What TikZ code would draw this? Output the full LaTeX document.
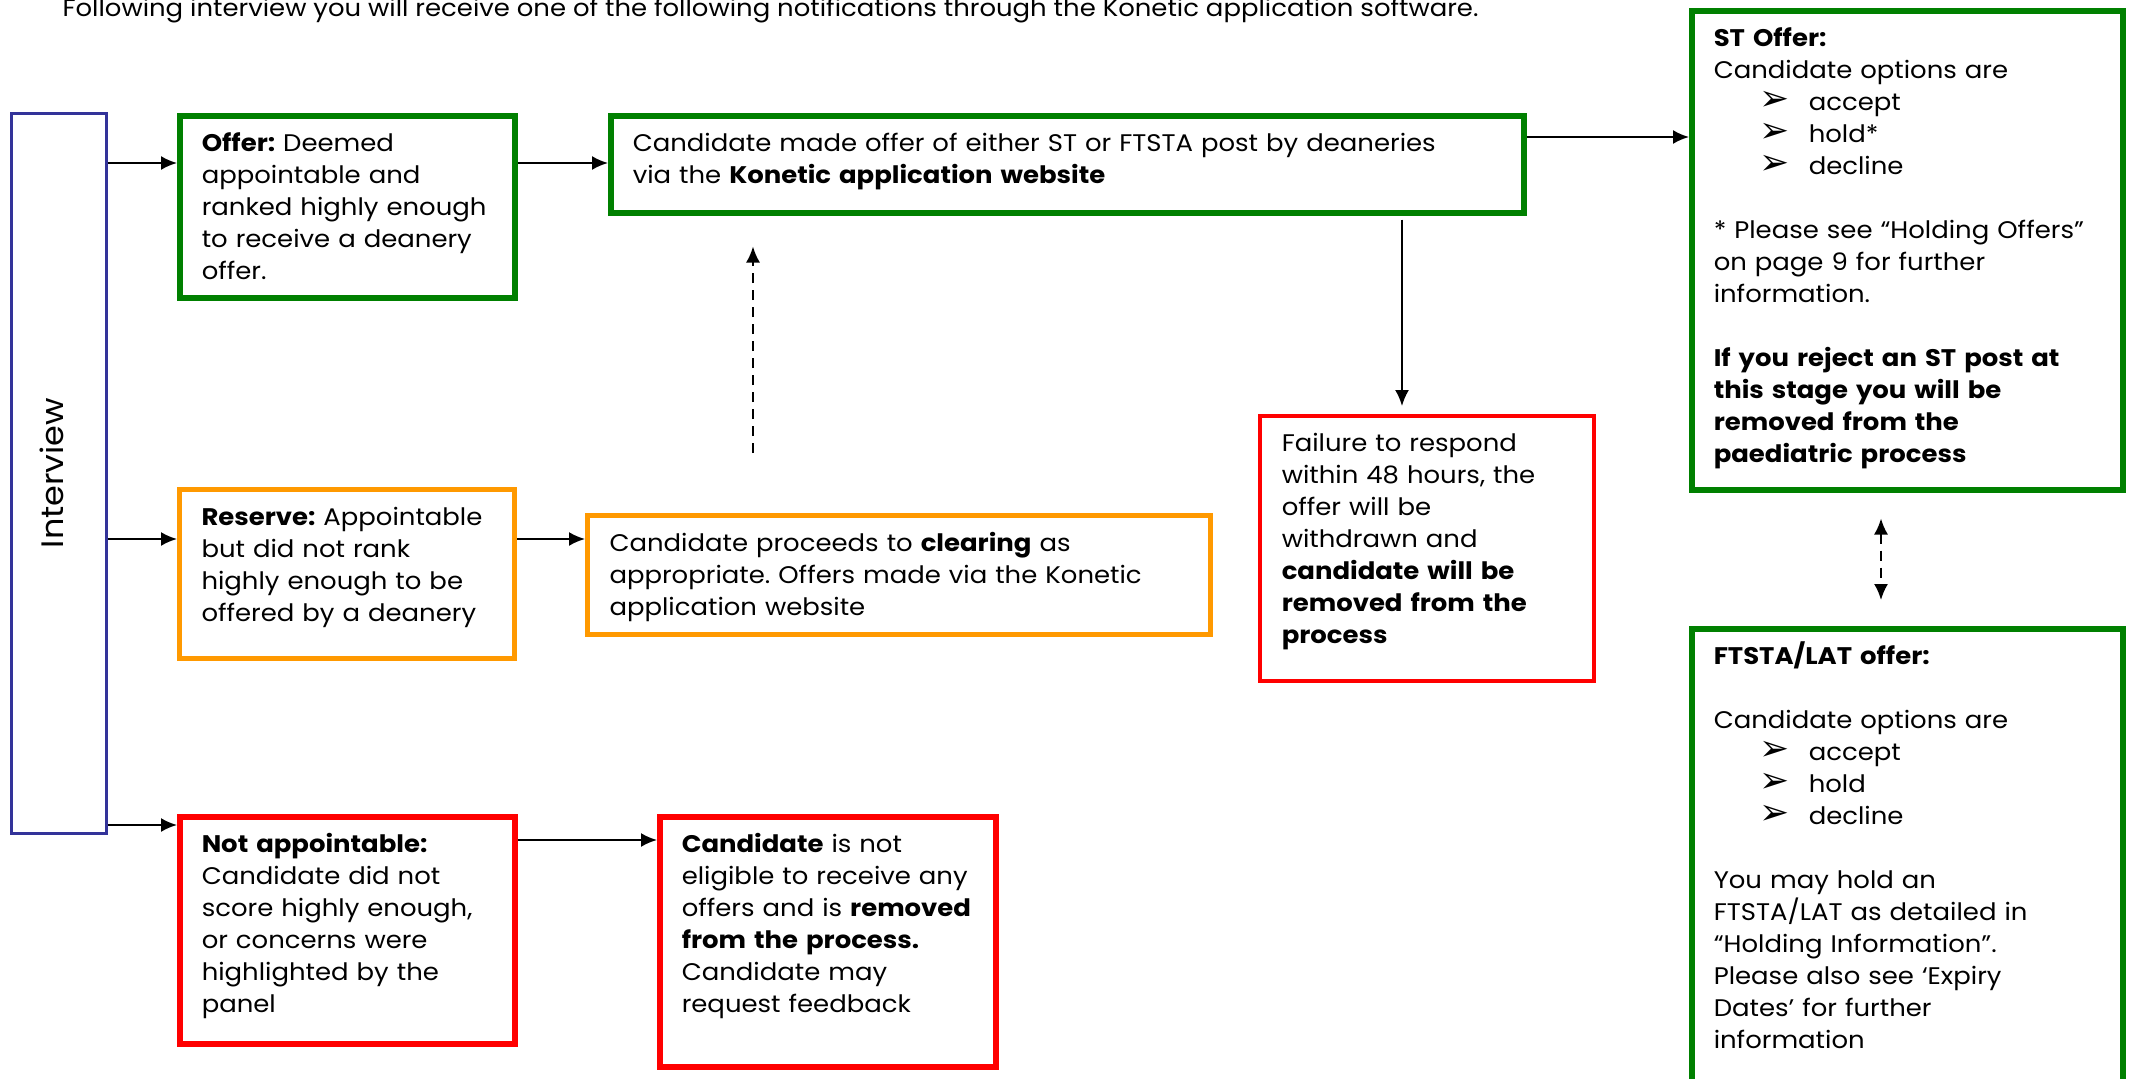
\documentclass[tikz,border=0pt]{standalone}
\usepackage{fontspec}
\setmainfont{Poppins}[FakeStretch=1.08]
\newfontfamily\arrowfont{DejaVu Sans}
\usetikzlibrary{arrows.meta}
\frenchspacing

\definecolor{offergreen}{RGB}{0,128,0}
\definecolor{stopred}{RGB}{255,0,0}
\definecolor{reserveorange}{RGB}{255,153,0}
\definecolor{interviewblue}{RGB}{51,51,153}

\newcommand{\opt}[1]{\hspace*{46pt}\makebox[49pt][l]{\fontsize{36}{32}\arrowfont\char"27A2}#1}

\tikzset{
    txt/.style={font=\fontsize{24}{32}\selectfont},
    box/.style={draw, txt, anchor=north west, align=left, inner xsep=22pt,
        inner ysep=0pt, text height=36pt},
    arr/.style={-{Latex[length=16pt,width=14pt]}, line width=2pt},
    dasharr/.style={arr, dash pattern=on 10pt off 7pt}
}

\begin{document}
\begin{tikzpicture}[x=1pt,y=1pt]
    \useasboundingbox (0,0) rectangle (2134,-1079);

    \node[txt, anchor=base west] at (59,-16) (title)
        {Following interview you will receive one of the following notifications through the Konetic application software.};

    \node[draw=interviewblue, line width=3pt, font=\fontsize{31}{32}\selectfont, rotate=90,
          minimum width=720pt, minimum height=95pt, text depth=14pt] at (58.5,-473) (interview) {Interview};

    \node[box, draw=offergreen, line width=5.5pt, text width=291pt, text depth=146pt]
        at (177,-113) (offer)
        {\textbf{Offer:} Deemed\\appointable and\\ranked highly enough\\to receive a deanery\\offer.};
    \node[box, draw=offergreen, line width=5.5pt, text width=869pt, text depth=61pt]
        at (608,-113) (konetic)
        {Candidate made offer of either ST or FTSTA post by deaneries\\via the \textbf{Konetic application website}};
    \node[box, draw=offergreen, line width=5.5pt, text width=387pt, text depth=443pt]
        at (1689,-8) (st)
        {\textbf{ST Offer:}\\Candidate options are\\\opt{accept}\\\opt{hold*}\\\opt{decline}\\~\\
         \relax* Please see “Holding Offers”\\on page 9 for further\\information.\\~\\
         \textbf{If you reject an ST post at\\this stage you will be\\removed from the\\paediatric process}};
    \node[box, draw=offergreen, line width=5.5pt, text width=387pt, text depth=434pt]
        at (1689,-626) (ftsta)
        {\textbf{FTSTA/LAT offer:}\\~\\Candidate options are\\\opt{accept}\\\opt{hold}\\\opt{decline}\\~\\
         You may hold an\\FTSTA/LAT as detailed in\\“Holding Information”.\\Please also see ‘Expiry\\Dates’ for further\\information};

    \node[box, draw=reserveorange, line width=5pt, text width=291pt, text depth=133pt]
        at (177,-487) (reserve)
        {\textbf{Reserve:} Appointable\\but did not rank\\highly enough to be\\offered by a deanery};
    \node[box, draw=reserveorange, line width=5pt, text width=579pt, text depth=83pt]
        at (585,-513) (clearing)
        {Candidate proceeds to \textbf{clearing} as\\appropriate. Offers made via the Konetic\\application website};

    \node[box, draw=stopred, line width=3.5pt, text width=290pt, text depth=229pt]
        at (1258,-414) (failure)
        {Failure to respond\\within 48 hours, the\\offer will be\\withdrawn and\\\textbf{candidate will be\\removed from the\\process}};
    \node[box, draw=stopred, line width=5.5pt, text width=291pt, text depth=191pt]
        at (177,-814) (notapp)
        {\textbf{Not appointable:}\\Candidate did not\\score highly enough,\\or concerns were\\highlighted by the\\panel};
    \node[box, draw=stopred, line width=5.5pt, text width=292pt, text depth=214pt]
        at (657,-814) (noteligible)
        {\textbf{Candidate} is not\\eligible to receive any\\offers and is \textbf{removed\\from the process.}\\Candidate may\\request feedback};

    % interview outcomes
    \draw[arr] (interview.south |- 0,-163) -- (offer.west |- 0,-163);
    \draw[arr] (interview.south |- 0,-539) -- (reserve.west |- 0,-539);
    \draw[arr] (interview.south |- 0,-825) -- (notapp.west |- 0,-825);

    \draw[arr] (offer.east |- 0,-163) -- (konetic.west |- 0,-163);
    \draw[arr] (reserve.east |- 0,-539) -- (clearing.west |- 0,-539);
    \draw[arr] (notapp.east |- 0,-840) -- (noteligible.west |- 0,-840);

    \draw[arr] (konetic.east |- 0,-137) -- (st.west |- 0,-137);
    \draw[arr, shorten <=4pt, shorten >=8pt] (konetic.south -| 1402,0) -- (failure.north -| 1402,0);

    % dashed links
    \draw[dasharr, shorten <=60pt, shorten >=31pt] (clearing.north -| 753,0) -- (konetic.south -| 753,0);
    \draw[dasharr, {Latex[length=16pt,width=14pt]}-{Latex[length=16pt,width=14pt]},
          shorten <=26pt, shorten >=26pt] (st.south -| 1881,0) -- (ftsta.north -| 1881,0);
\end{tikzpicture}
\end{document}
